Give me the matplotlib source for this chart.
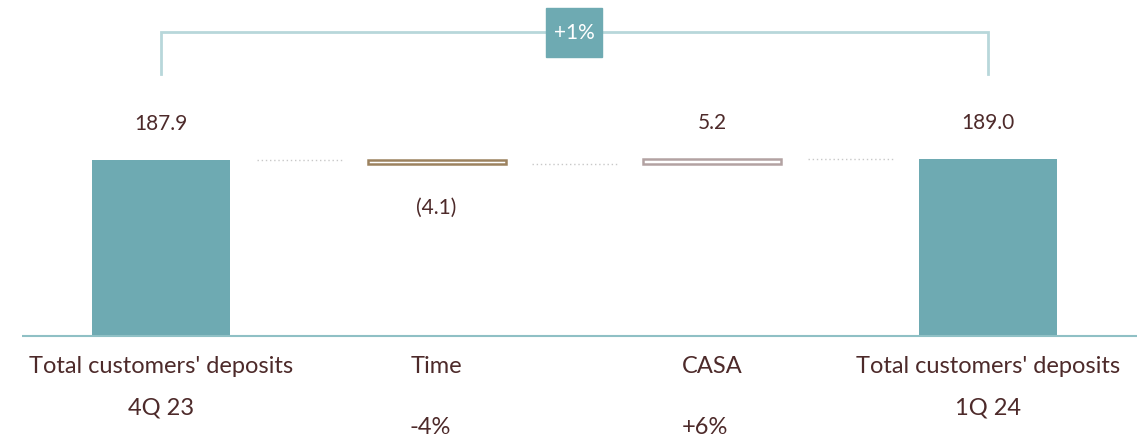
import numpy as np
import matplotlib
matplotlib.use("Agg")
import matplotlib.pyplot as plt
from matplotlib.patches import Rectangle

plt.rcParams['font.family'] = ['Lato', 'DejaVu Sans']

# data
categories = ["Total customers' deposits", "Time", "CASA", "Total customers' deposits"]
sub_labels = ["4Q 23", "", "", "1Q 24"]
pct_labels = ["", "-4%", "+6%", ""]
values = [187.9, -4.1, 5.2, 189.0]
kinds = ["total", "delta", "delta", "total"]
value_labels = ["187.9", "(4.1)", "5.2", "189.0"]
total_change = "+1%"

TEAL = "#6eaab2"
TEXT = "#4d2a2a"
EDGE_TIME = "#9c825f"
EDGE_CASA = "#b3a2a2"
BRACKET = "#b8d7da"
BASE = "#8fc0c5"

fig = plt.figure(figsize=(11.45, 4.39), dpi=100)
ax = fig.add_axes([0, 0, 1, 1])
ax.set_xlim(-0.584, 3.570)
ax.set_ylim(-108.9, 359.8)
ax.axis("off")

x = np.arange(len(values))
w = 0.5
bottoms = []
tops = []
level = 0.0
for v, k in zip(values, kinds):
    if k == "total":
        bottoms.append(0.0)
        tops.append(v)
        level = v
    else:
        new = level + v
        bottoms.append(min(level, new))
        tops.append(max(level, new))
        level = new

edges = [TEAL, EDGE_TIME, EDGE_CASA, TEAL]
for i, k in enumerate(kinds):
    h = tops[i] - bottoms[i]
    if k == "total":
        ax.bar(x[i], h, bottom=bottoms[i], width=w, color=TEAL, linewidth=0)
    else:
        ax.bar(x[i], h, bottom=bottoms[i], width=w, color="white",
               edgecolor=edges[i], linewidth=1.8)

# connectors between bars (running level)
levels = np.cumsum(values)
for i in range(len(values) - 1):
    lv = values[0] if i == 0 else (values[i + 1] if kinds[i + 1] == "total" else levels[i])
    ax.plot([x[i] + w / 2 + 0.097, x[i + 1] - w / 2 - 0.092], [lv, lv],
            color="#c8c8c8", lw=1.0, ls=(0, (1, 2)))

# value labels
for i, v in enumerate(values):
    if v < 0:
        ax.text(x[i], bottoms[i] - 46, value_labels[i], ha="center", va="center",
                fontsize=15, color=TEXT)
    else:
        ax.text(x[i], tops[i] + 40, value_labels[i], ha="center", va="center",
                fontsize=15, color=TEXT)

# baseline
ax.plot([-0.504, 3.540], [0, 0], color=BASE, lw=1.5, solid_capstyle="butt")

# category labels
pct_shift = [0, -0.097, -0.112, 0]
for i in range(len(categories)):
    ax.text(x[i], -32, categories[i], ha="center", va="center", fontsize=17, color=TEXT)
    if sub_labels[i]:
        ax.text(x[i], -76, sub_labels[i], ha="center", va="center", fontsize=17, color=TEXT)
    if pct_labels[i]:
        ax.text(x[i] + pct_shift[i], -97, pct_labels[i], ha="left", va="center",
                fontsize=17, color=TEXT)

# bracket with total change
yb = 324.5
ax.plot([x[0], x[0], x[-1], x[-1]], [279.7, yb, yb, 279.7], color=BRACKET, lw=2,
        solid_joinstyle="miter")
mid = (x[0] + x[-1]) / 2
ax.add_patch(Rectangle((mid - 0.1015, yb - 26.2), 0.203, 52.3, color=TEAL, zorder=3))
ax.text(mid, yb, total_change, ha="center", va="center", fontsize=15, color="white", zorder=4)

fig.savefig("out.png", dpi=100)
